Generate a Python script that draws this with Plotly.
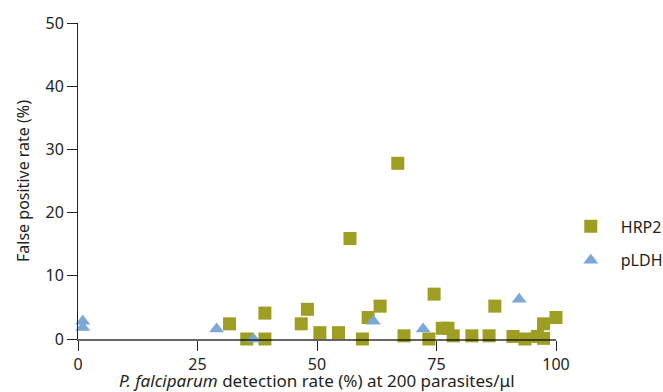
import plotly.graph_objects as go

# HRP2-based RDTs: detection rate (%) vs false positive rate (%)
hrp2_detection = [31.7, 35.3, 39.1, 39.1, 46.7, 48.0, 50.6, 54.5, 56.9, 59.5,
                  60.7, 63.2, 66.9, 68.2, 73.4, 74.5, 76.2, 77.4, 78.5, 82.4,
                  86.0, 87.2, 91.0, 93.5, 96.1, 97.4, 97.4, 100.0]
hrp2_false_pos = [2.4, 0.0, 4.1, 0.0, 2.4, 4.7, 1.0, 1.0, 15.9, 0.0,
                  3.4, 5.2, 27.8, 0.5, 0.0, 7.1, 1.7, 1.7, 0.5, 0.5,
                  0.5, 5.2, 0.4, 0.0, 0.4, 0.1, 2.4, 3.4]

# pLDH-based RDTs
pldh_detection = [1.0, 1.0, 29.0, 36.7, 61.8, 72.2, 92.3]
pldh_false_pos = [2.8, 1.8, 1.6, 0.0, 2.8, 1.6, 6.3]

x_ticks = [0, 25, 50, 75, 100]
y_ticks = [0, 10, 20, 30, 40, 50]

OLIVE = "#9d9e22"
BLUE = "#7ba7d9"
TEXT = "#231f20"
FONT = "Noto Sans"

fig = go.Figure()
fig.add_trace(go.Scatter(
    x=hrp2_detection, y=hrp2_false_pos, mode="markers", name="HRP2",
    legendgroup="hrp2", cliponaxis=False,
    marker=dict(symbol="square", size=13, color=OLIVE, line=dict(width=0)),
))
fig.add_trace(go.Scatter(
    x=pldh_detection, y=pldh_false_pos, mode="markers", name="pLDH",
    legendgroup="pldh", cliponaxis=False,
    marker=dict(symbol="triangle-up", size=13, color=BLUE, line=dict(width=0)),
))

fig.update_layout(
    width=663, height=392,
    margin=dict(l=78, r=107, t=23, b=53, autoexpand=False),
    paper_bgcolor="white", plot_bgcolor="white",
    font=dict(family=FONT, size=16, color=TEXT),
    showlegend=True,
    legend=dict(
        x=1.01, xanchor="left", y=0.41, yanchor="top",
        itemwidth=50, tracegroupgap=10, traceorder="grouped",
        font=dict(family=FONT, size=16, color=TEXT),
        bgcolor="rgba(0,0,0,0)",
    ),
)

# x-axis title sits low, just under the tick labels
fig.add_annotation(
    text="<i>P. falciparum</i> detection rate (%) at 200 parasites/μl",
    xref="paper", yref="paper", x=0.5, y=-0.1329,
    xanchor="center", yanchor="middle", showarrow=False,
    font=dict(family=FONT, size=17, color=TEXT),
)

fig.update_xaxes(
    range=[0, 100], tickvals=x_ticks, ticktext=[str(v) for v in x_ticks],
    showgrid=False, zeroline=False,
    showline=True, linecolor="rgba(0,0,0,0.6)", linewidth=2,
    ticks="outside", ticklen=10, tickwidth=1, tickcolor="#222",
    tickfont=dict(family=FONT, size=16, color=TEXT),
    automargin=False,
)
fig.update_yaxes(
    range=[0, 50], tickvals=y_ticks, ticktext=[str(v) for v in y_ticks],
    showgrid=False, zeroline=False,
    showline=True, linecolor="#222", linewidth=1,
    ticks="outside", ticklen=10, tickwidth=1, tickcolor="#222",
    tickfont=dict(family=FONT, size=16, color=TEXT),
    title=dict(text="False positive rate (%)",
               font=dict(family=FONT, size=16, color=TEXT), standoff=11),
    automargin=False,
)

fig.write_html("out.html")
